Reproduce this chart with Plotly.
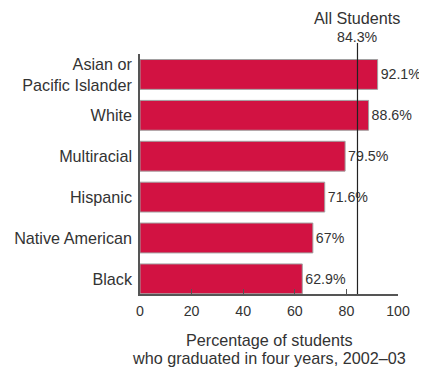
import plotly.graph_objects as go

categories = ["Asian or<br>Pacific Islander", "White", "Multiracial", "Hispanic", "Native American", "Black"]
values = [92.1, 88.6, 79.5, 71.6, 67, 62.9]
labels = ["92.1%", "88.6%", "79.5%", "71.6%", "67%", "62.9%"]
all_students = 84.3
all_label = ["All Students", "84.3%"]
x_ticks = [0, 20, 40, 60, 80, 100]
x_title = ["Percentage of students", "who graduated in four years, 2002–03"]

FONT = "Liberation Sans, Arial, sans-serif"
TXT = "#333333"
FS = 16.2
NS = 14.2

fig = go.Figure(go.Bar(
    y=categories, x=values, orientation="h",
    text=labels, textposition="outside", cliponaxis=False,
    textfont=dict(family=FONT, size=NS, color=TXT),
    marker=dict(color="#D21242", line=dict(color="#A0A0A0", width=1)),
))

fig.add_shape(type="line", xref="x", yref="paper", x0=all_students, x1=all_students,
              y0=0, y1=1.046, line=dict(color="#222222", width=1.2))
for txt, yy, sz in zip(all_label, [1.15, 1.071], [FS, NS]):
    fig.add_annotation(x=all_students, xref="x", y=yy, yref="paper", yanchor="middle",
                       text=txt, showarrow=False,
                       font=dict(family=FONT, size=sz, color=TXT))
for txt, yy in zip(x_title, [-0.192, -0.267]):
    fig.add_annotation(x=0.5, xref="paper", y=yy, yref="paper", yanchor="middle",
                       text=txt, showarrow=False,
                       font=dict(family=FONT, size=FS, color=TXT))

fig.update_layout(
    width=419, height=360,
    margin=dict(l=132, r=29, t=46, b=74, autoexpand=False),
    plot_bgcolor="white", paper_bgcolor="white",
    bargap=0.27, showlegend=False,
    font=dict(family=FONT, size=FS, color=TXT),
)
fig.update_xaxes(range=[0, 100], tickvals=x_ticks, ticks="inside", ticklen=5,
                 tickcolor="#555555", showline=True, linecolor="#555555", linewidth=1.5,
                 showgrid=False, zeroline=False, ticklabelstandoff=3,
                 tickfont=dict(family=FONT, size=NS, color=TXT))
fig.update_yaxes(autorange=False, range=[5.37, -0.5], showline=True, linecolor="#555555",
                 linewidth=1.5, showgrid=False, ticks="", ticklabelstandoff=3,
                 tickfont=dict(family=FONT, size=FS, color=TXT))

fig.write_html("out.html")
